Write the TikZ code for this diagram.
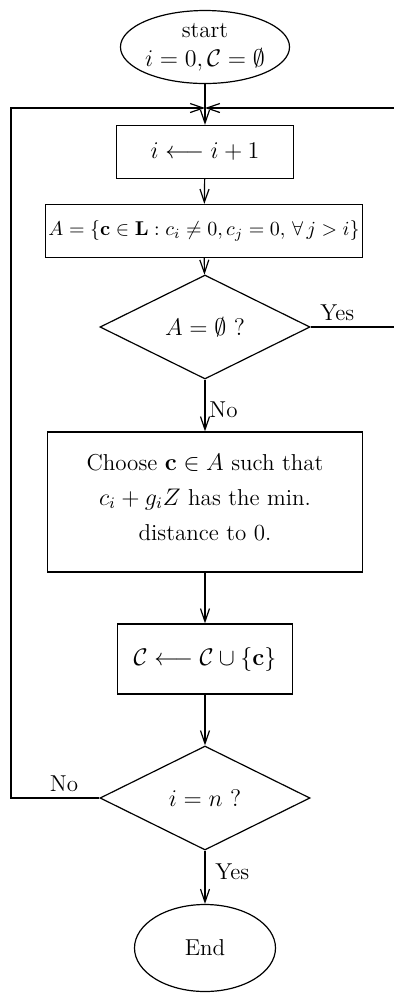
\documentclass[tikz,border=0pt]{standalone}
\usetikzlibrary{shapes.geometric,arrows.meta}
\begin{document}
\begin{tikzpicture}[x=0.5pt,y=-0.5pt,
  every node/.style={font=\fontsize{11.5}{14}\selectfont},
  line/.style={line width=0.6pt},
  arr/.style={line, -{Straight Barb[length=6.5pt,width=4.5pt]}},
  box/.style={draw, line width=0.6pt, rectangle, inner sep=2pt, align=center},
  dec/.style={draw, line width=0.6pt, diamond, inner sep=0pt, minimum width=105pt, minimum height=52pt},
  term/.style={draw, line width=0.6pt, ellipse, inner sep=0pt, align=center},
  lab/.style={inner sep=1pt}]
\useasboundingbox (0,0) rectangle (393,993);
\node[term, minimum width=68.5pt, minimum height=36.5pt] (start) at (205,47) {start\\[0.5pt] $i=0,\mathcal{C}=\emptyset$};
\coordinate (J) at (205,108);
\node[box, minimum width=88.5pt, minimum height=26.5pt] (b1) at (205,152) {$i \longleftarrow i+1$};
\node[box, minimum width=158.5pt, minimum height=26.5pt, inner sep=1pt, font=\fontsize{10.3}{12}\selectfont] (b2) at (204,231) {$A=\{\mathbf{c}\in\mathbf{L}: c_i\neq 0, c_j=0,\,\forall\, j>i\}$};
\node[dec] (d1) at (205,327) {$A=\emptyset\ ?$};
\node[box, minimum width=157.5pt, minimum height=70pt] (b3) at (205,502) {Choose $\mathbf{c}\in A$ such that\\[3.5pt] $c_i+g_iZ$ has the min.\\[3.5pt] distance to 0.\\[-9pt]};
\node[box, minimum width=87.5pt, minimum height=35pt] (b4) at (205,659) {$\mathcal{C}\longleftarrow \mathcal{C}\cup\{\mathbf{c}\}$};
\node[dec] (d2) at (205,798) {$i=n\ ?$};
\node[term, minimum width=70.5pt, minimum height=43.5pt] (end) at (205,948) {End};
\draw[arr] (start) -- (b1);
\draw[arr] (b1) -- (b2);
\draw[arr] (b2) -- (d1);
\draw[arr] (d1) -- (b3);
\draw[arr] (b3) -- (b4);
\draw[arr] (b4) -- (d2);
\draw[arr] (d2) -- (end);
\draw[arr] (d2.west) -- (11,798) |- (J);
\draw[arr] (d1.east) -- (396,327) |- (J);
\node[lab, anchor=west] (y1) at (318,313) {Yes};
\node[lab, anchor=west] (n1) at (207,410) {No};
\node[lab] (n2) at (64,784) {No};
\node[lab, anchor=west] (y2) at (213,872) {Yes};
\end{tikzpicture}
\end{document}
